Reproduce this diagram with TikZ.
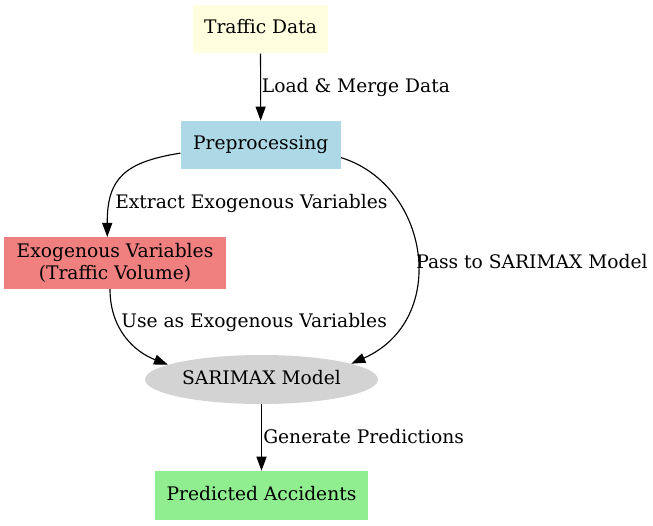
\documentclass[tikz,border=0pt]{standalone}
\usepackage{fontspec}
\setmainfont{DejaVu Serif}
\usetikzlibrary{arrows.meta,shapes.geometric,calc}
\definecolor{lyellow}{HTML}{FFFFE0}
\definecolor{lblue}{HTML}{ADD8E6}
\definecolor{lcoral}{HTML}{F08080}
\definecolor{lgray}{HTML}{D3D3D3}
\definecolor{lgreen}{HTML}{90EE90}
\begin{document}
\begin{tikzpicture}[x=0.75pt,y=-0.75pt,
  every node/.style={font=\fontsize{14}{16.2}\selectfont},
  box/.style={rectangle,draw=none,inner sep=0pt,text height=10.5pt,text depth=3.5pt},
  mbox/.style={rectangle,draw=none,inner sep=0pt,align=center},
  oval/.style={ellipse,draw=none,inner sep=0pt,text height=10.5pt,text depth=3.5pt},
  conn/.style={draw=black,line width=0.85pt,-{Triangle[length=10.5pt,width=7.5pt]}},
  lbl/.style={anchor=base west,inner sep=0pt}]
\useasboundingbox (0,0) rectangle (653,525);
\node[box,fill=lyellow,minimum width=135.5*0.75pt,minimum height=48.3*0.75pt] (td) at (260.5,29.1) {Traffic Data};
\node[box,fill=lblue,minimum width=160*0.75pt,minimum height=48.3*0.75pt] (pre) at (260.7,145.1) {Preprocessing};
\node[mbox,fill=lcoral,minimum width=222*0.75pt,minimum height=51.6*0.75pt] (exo) at (115,263) {Exogenous Variables\\(Traffic Volume)};
\node[oval,fill=lgray,minimum width=233*0.75pt,minimum height=49*0.75pt] (sar) at (261.5,379.5) {SARIMAX Model};
\node[box,fill=lgreen,minimum width=213*0.75pt,minimum height=49*0.75pt] (pred) at (261.5,495.5) {Predicted Accidents};

\draw[conn] (td) -- (pre);
\draw[conn] ($(pre.west)+(0,8)$) .. controls (125,162) and (107,178) .. ($(exo.north)+(-7.7,0)$);
\draw[conn] ($(pre.east)+(0,12.5)$) .. controls (430,185) and (450,320) .. (sar.10);
\draw[conn] ($(exo.south)+(-5,0)$) .. controls (110,330) and (135,352) .. (sar.171);
\draw[conn] (sar) -- (pred);

\node[lbl] (l1) at (261.7,92.5) {Load \& Merge Data};
\node[lbl] (l2) at (115,208.5) {Extract Exogenous Variables};
\node[lbl] (l3) at (416,268) {Pass to SARIMAX Model};
\node[lbl] (l4) at (121,327) {Use as Exogenous Variables};
\node[lbl] (l5) at (263,443.5) {Generate Predictions};
\end{tikzpicture}
\end{document}
